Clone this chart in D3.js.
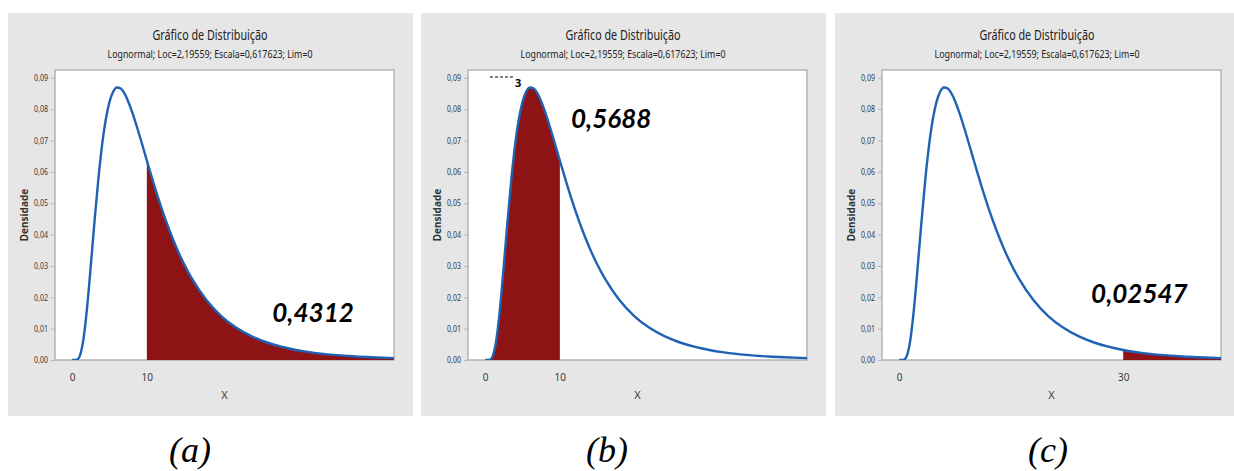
<!DOCTYPE html>
<html>
<head>
<meta charset="utf-8">
<script src="https://cdn.jsdelivr.net/npm/d3@7"></script>
<style>
  body { margin: 0; background: #fff; }
  svg { display: block; }
</style>
</head>
<body>
<svg id="chart" width="1234" height="471"></svg>
<script>
// Lognormal density (x, density)
const xValues = [0, 0.5, 0.7, 1, 1.5, 2, 2.5, 3, 3.5, 4, 4.5, 5, 5.5, 6, 6.5, 7, 8, 9, 10,
  11, 12, 13, 14, 15, 16, 18, 20, 22, 24, 26, 28, 30, 32, 35, 38, 40, 43.2];
const densityValues = [0, 0.00002, 0.00018, 0.00117, 0.00646, 0.01676, 0.03024, 0.04447, 0.05756,
  0.06844, 0.07669, 0.08235, 0.08564, 0.08694, 0.08662, 0.08504, 0.07933, 0.07177, 0.06363,
  0.05565, 0.04823, 0.04155, 0.03565, 0.03052, 0.02610, 0.01906, 0.01395, 0.01026, 0.00760,
  0.00566, 0.00424, 0.00320, 0.00244, 0.00164, 0.00111, 0.00087, 0.00059];

const yTickValues = [0, 0.01, 0.02, 0.03, 0.04, 0.05, 0.06, 0.07, 0.08, 0.09];
const xTickSets = [[0, 10], [0, 10], [0, 30]];
const shadeFrom = [10, 0, 30];
const shadeTo = [43.2, 10, 43.2];
const areaLabels = ['0,4312', '0,5688', '0,02547'];
const captions = ['(a)', '(b)', '(c)'];

const titleText = 'Gráfico de Distribuição';
const subtitleText = 'Lognormal; Loc=2,19559; Escala=0,617623; Lim=0';

// layout
const panelLeft = [8, 421, 835];
const panelWidth = [405, 405, 399];
const panelTop = 13, panelHeight = 403;
const plotOffset = 47, plotWidth = 339, plotTop = 70, plotBottom = 360;
const captionX = [190, 607, 1048];
// annotation anchors in data units (x, density)
const labelAnchor = [[26.8, 0.0121], [11.5, 0.074], [25.7, 0.0182]];

const COLORS = {
  panel: '#e6e6e6',
  frame: '#b4b4b4',
  line: '#1f62b3',
  fill: '#8e1315',
  text: '#3a3a3a'
};

const points = xValues.map((x, i) => ({ x, y: densityValues[i] }));
const svg = d3.select('#chart');

panelLeft.forEach((left, p) => {
  const g = svg.append('g');

  g.append('rect')
    .attr('x', left).attr('y', panelTop)
    .attr('width', panelWidth[p]).attr('height', panelHeight)
    .attr('fill', COLORS.panel);

  const x0 = left + plotOffset;
  const x = d3.scaleLinear().domain([-2.3, 43.1]).range([x0, x0 + plotWidth]);
  const y = d3.scaleLinear().domain([0, 0.0925]).range([plotBottom, plotTop]);

  // plot area
  g.append('rect')
    .attr('x', x0).attr('y', plotTop)
    .attr('width', plotWidth).attr('height', plotBottom - plotTop)
    .attr('fill', '#fff')
    .attr('stroke', COLORS.frame)
    .attr('stroke-width', 1.5);

  const clipId = `clip-${p}`;
  g.append('clipPath').attr('id', clipId)
    .append('rect')
    .attr('x', x0).attr('y', plotTop)
    .attr('width', plotWidth).attr('height', plotBottom - plotTop);

  const plot = g.append('g').attr('clip-path', `url(#${clipId})`);

  // shaded area
  const shaded = points.filter(d => d.x >= shadeFrom[p] && d.x <= shadeTo[p]);
  plot.append('path')
    .datum(shaded)
    .attr('fill', COLORS.fill)
    .attr('d', d3.area()
      .x(d => x(d.x))
      .y0(y(0))
      .y1(d => y(d.y))
      .curve(d3.curveMonotoneX));

  // density curve
  plot.append('path')
    .datum(points)
    .attr('fill', 'none')
    .attr('stroke', COLORS.line)
    .attr('stroke-width', 2.4)
    .attr('d', d3.line()
      .x(d => x(d.x))
      .y(d => y(d.y))
      .curve(d3.curveMonotoneX));

  // y axis
  const yAxis = g.append('g')
    .attr('transform', `translate(${x0},0)`)
    .call(d3.axisLeft(y).tickValues(yTickValues)
      .tickFormat(d => d3.format('.2f')(d).replace('.', ','))
      .tickSize(4).tickPadding(3));
  yAxis.select('.domain').remove();
  yAxis.selectAll('line').attr('stroke', COLORS.frame);
  yAxis.selectAll('text')
    .attr('font-family', '"Noto Sans", sans-serif')
    .attr('font-size', 8.5)
    .attr('textLength', 14).attr('lengthAdjust', 'spacingAndGlyphs')
    .attr('fill', COLORS.text);

  // x axis
  const xAxis = g.append('g')
    .attr('transform', `translate(0,${plotBottom})`)
    .call(d3.axisBottom(x).tickValues(xTickSets[p])
      .tickFormat(d3.format('d'))
      .tickSize(0).tickPadding(14));
  xAxis.select('.domain').remove();
  xAxis.selectAll('text')
    .attr('font-family', '"Noto Sans", sans-serif')
    .attr('font-size', 10)
    .attr('fill', COLORS.text);

  // titles
  g.append('text')
    .attr('x', left + 202).attr('y', 40)
    .attr('text-anchor', 'middle')
    .attr('font-family', '"Noto Sans", sans-serif')
    .attr('font-size', 15)
    .attr('fill', '#222')
    .attr('textLength', 115).attr('lengthAdjust', 'spacingAndGlyphs')
    .text(titleText);

  g.append('text')
    .attr('x', left + 202).attr('y', 57.5)
    .attr('text-anchor', 'middle')
    .attr('font-family', '"Noto Sans", sans-serif')
    .attr('font-size', 11.5)
    .attr('fill', '#222')
    .attr('textLength', 205).attr('lengthAdjust', 'spacingAndGlyphs')
    .text(subtitleText);

  g.append('text')
    .attr('transform', `translate(${left + 20},215) rotate(-90)`)
    .attr('text-anchor', 'middle')
    .attr('font-family', '"Noto Sans", sans-serif')
    .attr('font-weight', 'bold')
    .attr('font-size', 10)
    .attr('fill', '#333')
    .text('Densidade');

  g.append('text')
    .attr('x', x0 + plotWidth / 2).attr('y', 399)
    .attr('text-anchor', 'middle')
    .attr('font-family', '"Noto Sans", sans-serif')
    .attr('font-size', 11)
    .attr('fill', COLORS.text)
    .text('X');

  // probability annotation
  g.append('text')
    .attr('x', x(labelAnchor[p][0])).attr('y', y(labelAnchor[p][1]))
    .attr('font-family', 'Lato, sans-serif')
    .attr('font-weight', 'bold')
    .attr('font-style', 'italic')
    .attr('font-size', 26)
    .attr('fill', '#000')
    .text(areaLabels[p]);

  // caption under the panel
  svg.append('text')
    .attr('x', captionX[p]).attr('y', 462)
    .attr('text-anchor', 'middle')
    .attr('font-family', '"Liberation Serif", serif')
    .attr('font-style', 'italic')
    .attr('font-size', 36)
    .attr('fill', '#000')
    .text(captions[p]);
});

// stray marks copied from the original figure (panel b)
svg.append('line')
  .attr('x1', 490).attr('x2', 515).attr('y1', 77).attr('y2', 77)
  .attr('stroke', '#000').attr('stroke-width', 1)
  .attr('stroke-dasharray', '3,2');
svg.append('text')
  .attr('x', 515).attr('y', 87)
  .attr('font-family', '"Noto Sans", sans-serif')
  .attr('font-weight', 'bold')
  .attr('font-size', 11)
  .text('3');
</script>
</body>
</html>
